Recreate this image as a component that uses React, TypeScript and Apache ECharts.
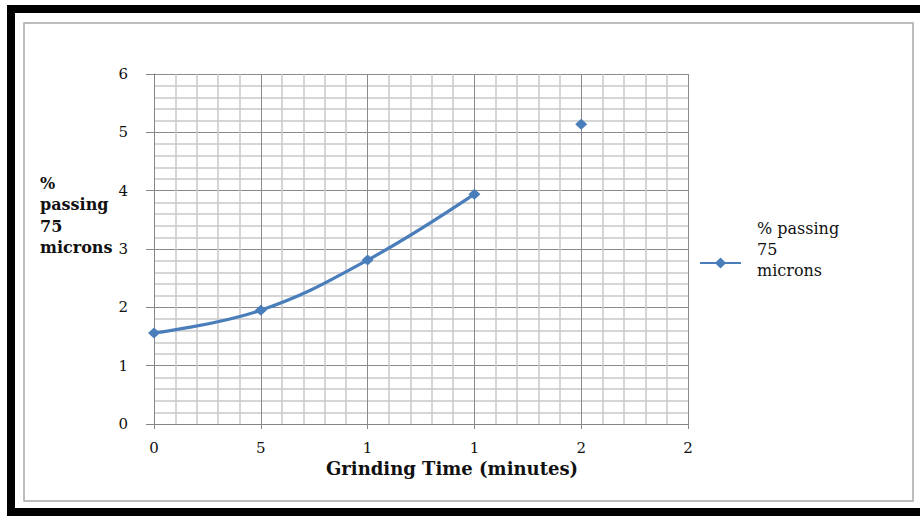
import React, { useEffect, useRef } from "react";
import * as echarts from "echarts";

// Data
const grindingTimes = [0, 5, 10, 15, 20];
const percentPassing = [1.56, 1.95, 2.81, 3.94, 5.14];
const joinedPoints = 4; // the curve joins only the first four points
const xTickLabels = ["0", "5", "1", "1", "2", "2"];
const yTickLabels = ["0", "1", "2", "3", "4", "5", "6"];
const seriesName = "% passing 75 microns";
const legendLines = ["% passing", "75", "microns"];
const xTitle = "Grinding Time (minutes)";
const yTitleLines = ["%", "passing", "75", "microns"];

const BLUE = "#4a7ebb";
const FONT = "'DejaVu Serif', 'Liberation Serif', serif";

export default function App() {
  const ref = useRef<HTMLDivElement>(null);

  useEffect(() => {
    if (!ref.current) return;
    const chart = echarts.init(ref.current, undefined, { renderer: "svg" });
    const points = grindingTimes.map((t, i) => [t, percentPassing[i]]);
    const option: any = {
      animation: false,
      backgroundColor: "#ffffff",
      grid: { left: 154, top: 74, right: 232, bottom: 92, containLabel: false },
      xAxis: {
        type: "value",
        min: 0,
        max: 25,
        interval: 5,
        name: xTitle,
        nameLocation: "middle",
        nameGap: 35,
        nameTextStyle: {
          fontFamily: FONT,
          fontSize: 18,
          fontWeight: "bold",
          color: "#111",
          padding: [0, 0, 0, 62],
        },
        axisLine: { show: true, lineStyle: { color: "#868686", width: 1 } },
        axisTick: { show: true, length: 5, lineStyle: { color: "#868686" } },
        axisLabel: {
          fontFamily: FONT,
          fontSize: 15,
          color: "#111",
          margin: 16,
          formatter: (v: number) => xTickLabels[Math.round(v / 5)] ?? "",
        },
        splitLine: { show: true, lineStyle: { color: "#8a8a8a", width: 1 } },
        minorTick: { show: false, splitNumber: 5 },
        minorSplitLine: { show: true, lineStyle: { color: "#c8c8c8", width: 1.5 } },
      },
      yAxis: {
        type: "value",
        min: 0,
        max: 6,
        interval: 1,
        axisLine: { show: true, lineStyle: { color: "#868686", width: 1 } },
        axisTick: { show: true, length: 8, lineStyle: { color: "#868686" } },
        axisLabel: {
          fontFamily: FONT,
          fontSize: 15,
          color: "#111",
          margin: 26,
          formatter: (v: number) => yTickLabels[Math.round(v)] ?? "",
        },
        splitLine: { show: true, lineStyle: { color: "#8a8a8a", width: 1 } },
        minorTick: { show: false, splitNumber: 5 },
        minorSplitLine: { show: true, lineStyle: { color: "#c8c8c8", width: 1.5 } },
      },
      legend: {
        data: [seriesName],
        left: 699,
        top: 220,
        orient: "vertical",
        padding: 0,
        itemWidth: 41,
        itemHeight: 14,
        formatter: () =>
          legendLines.map((l) => `{a|${l}}`).join("\n") + "\n{b| }",
        textStyle: {
          fontFamily: FONT,
          fontSize: 16,
          color: "#111",
          padding: [0, 0, 0, 11],
          rich: {
            a: { fontFamily: FONT, fontSize: 16, lineHeight: 21, color: "#111" },
            b: { fontFamily: FONT, fontSize: 16, lineHeight: 28, color: "#111" },
          },
        },
      },
      series: [
        {
          name: seriesName,
          type: "line",
          data: points.slice(0, joinedPoints),
          smooth: 0.4,
          symbol: "diamond",
          symbolSize: [12, 11],
          showSymbol: true,
          lineStyle: { color: BLUE, width: 3.2 },
          itemStyle: { color: BLUE },
        },
        {
          name: seriesName,
          type: "line",
          data: points.slice(joinedPoints),
          symbol: "diamond",
          symbolSize: [12, 11],
          showSymbol: true,
          lineStyle: { color: BLUE, width: 3.2 },
          itemStyle: { color: BLUE },
        },
      ],
      graphic: [
        { type: "rect", shape: { x: 7, y: 5, width: 913, height: 8 }, style: { fill: "#000" }, silent: true },
        { type: "rect", shape: { x: 7, y: 5, width: 8, height: 511 }, style: { fill: "#000" }, silent: true },
        { type: "rect", shape: { x: 7, y: 508, width: 913, height: 8 }, style: { fill: "#000" }, silent: true },
        {
          type: "rect",
          shape: { x: 24, y: 23, width: 889, height: 478 },
          style: { fill: "none", stroke: "#a8a8a8", lineWidth: 1.5 },
          silent: true,
          z: -1,
        },
        {
          type: "text",
          left: 40,
          top: 173,
          style: {
            text: yTitleLines.join("\n"),
            font: `bold 16px ${FONT}`,
            lineHeight: 21.3,
            fill: "#111",
            align: "left",
          },
          silent: true,
        },
      ],
    };
    chart.setOption(option);
    return () => chart.dispose();
  }, []);

  return (
    <div
      ref={ref}
      style={{ position: "fixed", left: 0, top: 0, width: 920, height: 516 }}
    />
  );
}
